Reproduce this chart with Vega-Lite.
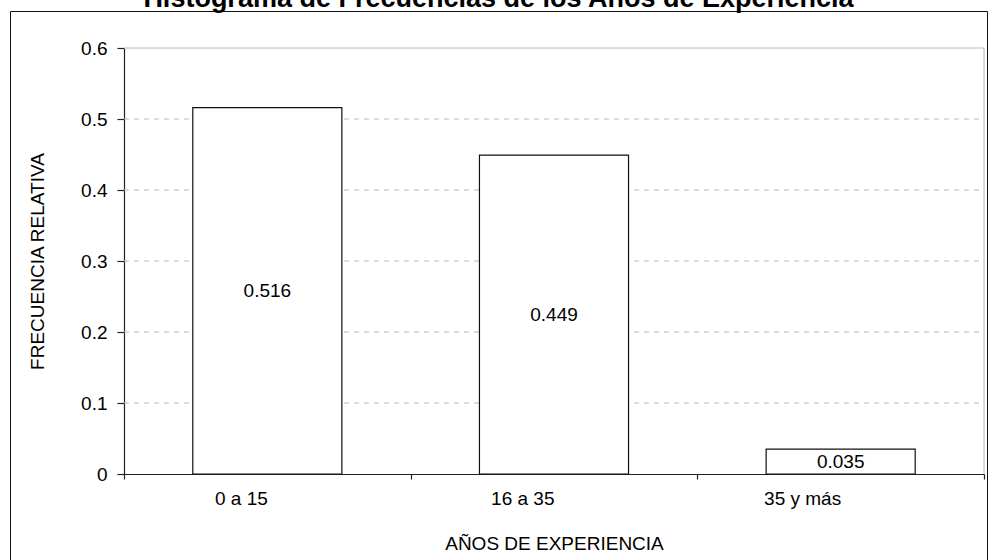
{
  "$schema": "https://vega.github.io/schema/vega-lite/v6.json",
  "width": 977,
  "height": 549,
  "autosize": {"type": "none"},
  "padding": {"left": 10, "top": 11, "right": 7, "bottom": 0},
  "background": "white",
  "title": {
    "text": "Histograma de Frecuencias de los Años de Experiencia",
    "font": "Liberation Sans",
    "fontSize": 27,
    "fontWeight": "bold",
    "color": "#000",
    "anchor": "middle",
    "frame": "group",
    "baseline": "alphabetic",
    "offset": 3.5,
    "dy": 26.5
  },
  "config": {
    "view": {"stroke": "#111", "strokeWidth": 1},
    "axis": {
      "labelFont": "Liberation Sans",
      "titleFont": "Liberation Sans",
      "labelFontSize": 19,
      "titleFontSize": 19,
      "titleFontWeight": "normal",
      "labelColor": "#000",
      "titleColor": "#000",
      "domainColor": "#222",
      "tickColor": "#222",
      "domainWidth": 1.2,
      "tickWidth": 1.2,
      "grid": false
    }
  },
  "datasets": {
    "barras": [
      {"rango": "0 a 15", "frecuencia": 0.516},
      {"rango": "16 a 35", "frecuencia": 0.449},
      {"rango": "35 y más", "frecuencia": 0.035}
    ],
    "rejilla": [
      {"nivel": 0.1},
      {"nivel": 0.2},
      {"nivel": 0.3},
      {"nivel": 0.4},
      {"nivel": 0.5}
    ]
  },
  "resolve": {"scale": {"y": "independent"}},
  "layer": [
    {
      "data": {"name": "rejilla"},
      "mark": {"type": "rule", "stroke": "#b8b8b8", "strokeWidth": 1, "strokeDash": [5, 5]},
      "encoding": {
        "y": {"field": "nivel", "type": "quantitative", "scale": {"domain": [0, 0.6], "range": [463, 37]}, "axis": null},
        "x": {"datum": "0 a 15", "type": "nominal", "bandPosition": 0},
        "x2": {"datum": "35 y más", "bandPosition": 1}
      }
    },
    {
      "data": {"values": [{"tope": 0.6, "base": 0}]},
      "mark": {"type": "rule", "stroke": "#b8b8b8", "strokeWidth": 1},
      "encoding": {
        "y": {"field": "tope", "type": "quantitative", "scale": {"domain": [0, 0.6], "range": [463, 37]}, "axis": null},
        "x": {"datum": "0 a 15", "type": "nominal", "bandPosition": 0},
        "x2": {"datum": "35 y más", "bandPosition": 1}
      }
    },
    {
      "data": {"values": [{"tope": 0.6, "base": 0}]},
      "mark": {"type": "rule", "stroke": "#b8b8b8", "strokeWidth": 1},
      "encoding": {
        "y": {"field": "tope", "type": "quantitative", "scale": {"domain": [0, 0.6], "range": [463, 37]}, "axis": null},
        "y2": {"field": "base"},
        "x": {"datum": "35 y más", "type": "nominal", "bandPosition": 1}
      }
    },
    {
      "data": {"name": "barras"},
      "mark": {"type": "bar", "fill": "white", "stroke": "#111", "strokeWidth": 1.2, "width": {"band": 0.52}},
      "encoding": {
        "x": {
          "field": "rango",
          "type": "nominal",
          "sort": null,
          "scale": {"domain": ["0 a 15", "16 a 35", "35 y más"], "range": [114, 974], "paddingInner": 0, "paddingOuter": 0},
          "axis": {
            "title": "AÑOS DE EXPERIENCIA",
            "labelAngle": 0,
            "tickBand": "extent",
            "offset": -86,
            "tickSize": 5,
            "labelPadding": 19,
            "titlePadding": 26
          }
        },
        "y": {
          "field": "frecuencia",
          "type": "quantitative",
          "scale": {"domain": [0, 0.6], "range": [463, 37]},
          "axis": {
            "title": "FRECUENCIA RELATIVA",
            "values": [0, 0.1, 0.2, 0.3, 0.4, 0.5, 0.6],
            "format": "~g",
            "offset": -114,
            "tickSize": 7,
            "labelPadding": 10,
            "titlePadding": 33
          }
        }
      }
    },
    {
      "data": {"name": "barras"},
      "mark": {"type": "text", "font": "Liberation Sans", "fontSize": 19, "color": "#000", "baseline": "middle", "align": "center"},
      "encoding": {
        "x": {"field": "rango", "type": "nominal", "sort": null},
        "y": {"field": "frecuencia", "type": "quantitative", "scale": {"domain": [0, 1.2], "range": [463, 37]}, "axis": null},
        "text": {"field": "frecuencia", "type": "quantitative", "format": ".3f"}
      }
    }
  ]
}
